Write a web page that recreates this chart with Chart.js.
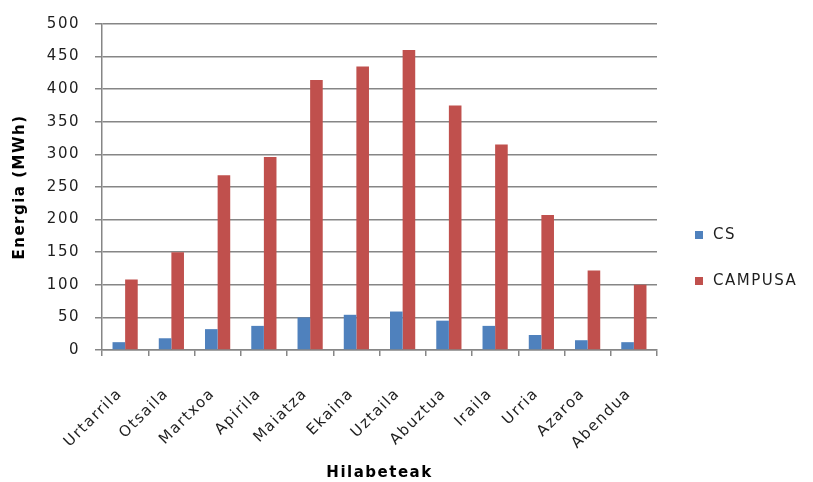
<!DOCTYPE html>
<html>
<head>
<meta charset="utf-8">
<script src="https://cdn.jsdelivr.net/npm/chart.js@4.4.0/dist/chart.umd.min.js"></script>
<style>
  html, body { margin: 0; padding: 0; background: #fff; }
  #wrap { width: 813px; height: 482px; position: relative; }
</style>
</head>
<body>
<div id="wrap"><canvas id="c"></canvas></div>
<script>
// Monthly energy, MWh
const months = ['Urtarrila', 'Otsaila', 'Martxoa', 'Apirila', 'Maiatza', 'Ekaina',
                'Uztaila', 'Abuztua', 'Iraila', 'Urria', 'Azaroa', 'Abendua'];
const csValues = [12, 18, 32, 37, 50, 54, 59, 45, 37, 23, 15, 12];
const campusaValues = [108, 150, 268, 296, 414, 435, 460, 375, 315, 207, 122, 100];
const seriesNames = ['CS', 'CAMPUSA'];
const yTicks = [0, 50, 100, 150, 200, 250, 300, 350, 400, 450, 500];

const GRID = '#868686';
const TEXT = '#1e1e1e';
const SPACING = '1.5px';

// wide-tracked text, like the tick labels of the office charts
const tracking = {
  id: 'tracking',
  beforeLayout(chart) { chart.ctx.letterSpacing = SPACING; },
  beforeDraw(chart) { chart.ctx.letterSpacing = SPACING; }
};

// legend drawn at the right side, squares followed by series names
const sideLegend = {
  id: 'sideLegend',
  afterDraw(chart) {
    const ctx = chart.ctx;
    const rows = [235, 281];
    ctx.save();
    ctx.letterSpacing = SPACING;
    ctx.font = '15px "DejaVu Sans"';
    ctx.textBaseline = 'middle';
    ctx.textAlign = 'left';
    chart.data.datasets.forEach((ds, i) => {
      const y = rows[i];
      ctx.fillStyle = ds.backgroundColor;
      ctx.fillRect(695, y - 4, 8, 8);
      ctx.fillStyle = TEXT;
      ctx.fillText(ds.label, 713, y);
    });
    ctx.restore();
  }
};

new Chart(document.getElementById('c'), {
  type: 'bar',
  data: {
    labels: months,
    datasets: [
      { label: seriesNames[0], data: csValues, backgroundColor: '#4f81bd' },
      { label: seriesNames[1], data: campusaValues, backgroundColor: '#c0504d' }
    ]
  },
  options: {
    responsive: true,
    maintainAspectRatio: false,
    animation: false,
    devicePixelRatio: 1,
    layout: { padding: { left: 0, right: 156, top: 22, bottom: 0 } },
    datasets: { bar: { barPercentage: 1.0, categoryPercentage: 0.545 } },
    plugins: {
      legend: { display: false },
      tooltip: { enabled: false }
    },
    scales: {
      x: {
        offset: true,
        grid: {
          offset: true,
          drawOnChartArea: false,
          drawTicks: true,
          tickLength: 6,
          color: GRID,
          lineWidth: 1.5
        },
        border: { color: GRID, width: 1.5 },
        ticks: {
          minRotation: 45,
          maxRotation: 45,
          padding: 29,
          labelOffset: -5,
          color: TEXT,
          font: { family: 'DejaVu Sans', size: 15 }
        },
        title: {
          display: true,
          text: 'Hilabeteak',
          color: '#000',
          padding: { top: 0, bottom: 0 },
          font: { family: 'DejaVu Sans', size: 15, weight: 'bold' }
        },
        afterFit(scale) { scale.height = 132; }
      },
      y: {
        min: 0,
        max: 500,
        afterBuildTicks(scale) { scale.ticks = yTicks.map(v => ({ value: v })); },
        grid: {
          color: GRID,
          lineWidth: 1.5,
          drawTicks: true,
          tickLength: 7
        },
        border: { color: GRID, width: 1.5 },
        ticks: {
          padding: 15,
          color: TEXT,
          font: { family: 'DejaVu Sans', size: 15 }
        },
        title: {
          display: true,
          text: 'Energia (MWh)',
          color: '#000',
          padding: { top: 11, bottom: 0 },
          font: { family: 'DejaVu Sans', size: 15, weight: 'bold' }
        },
        afterFit(scale) { scale.width = 102; }
      }
    }
  },
  plugins: [tracking, sideLegend]
});
</script>
</body>
</html>
